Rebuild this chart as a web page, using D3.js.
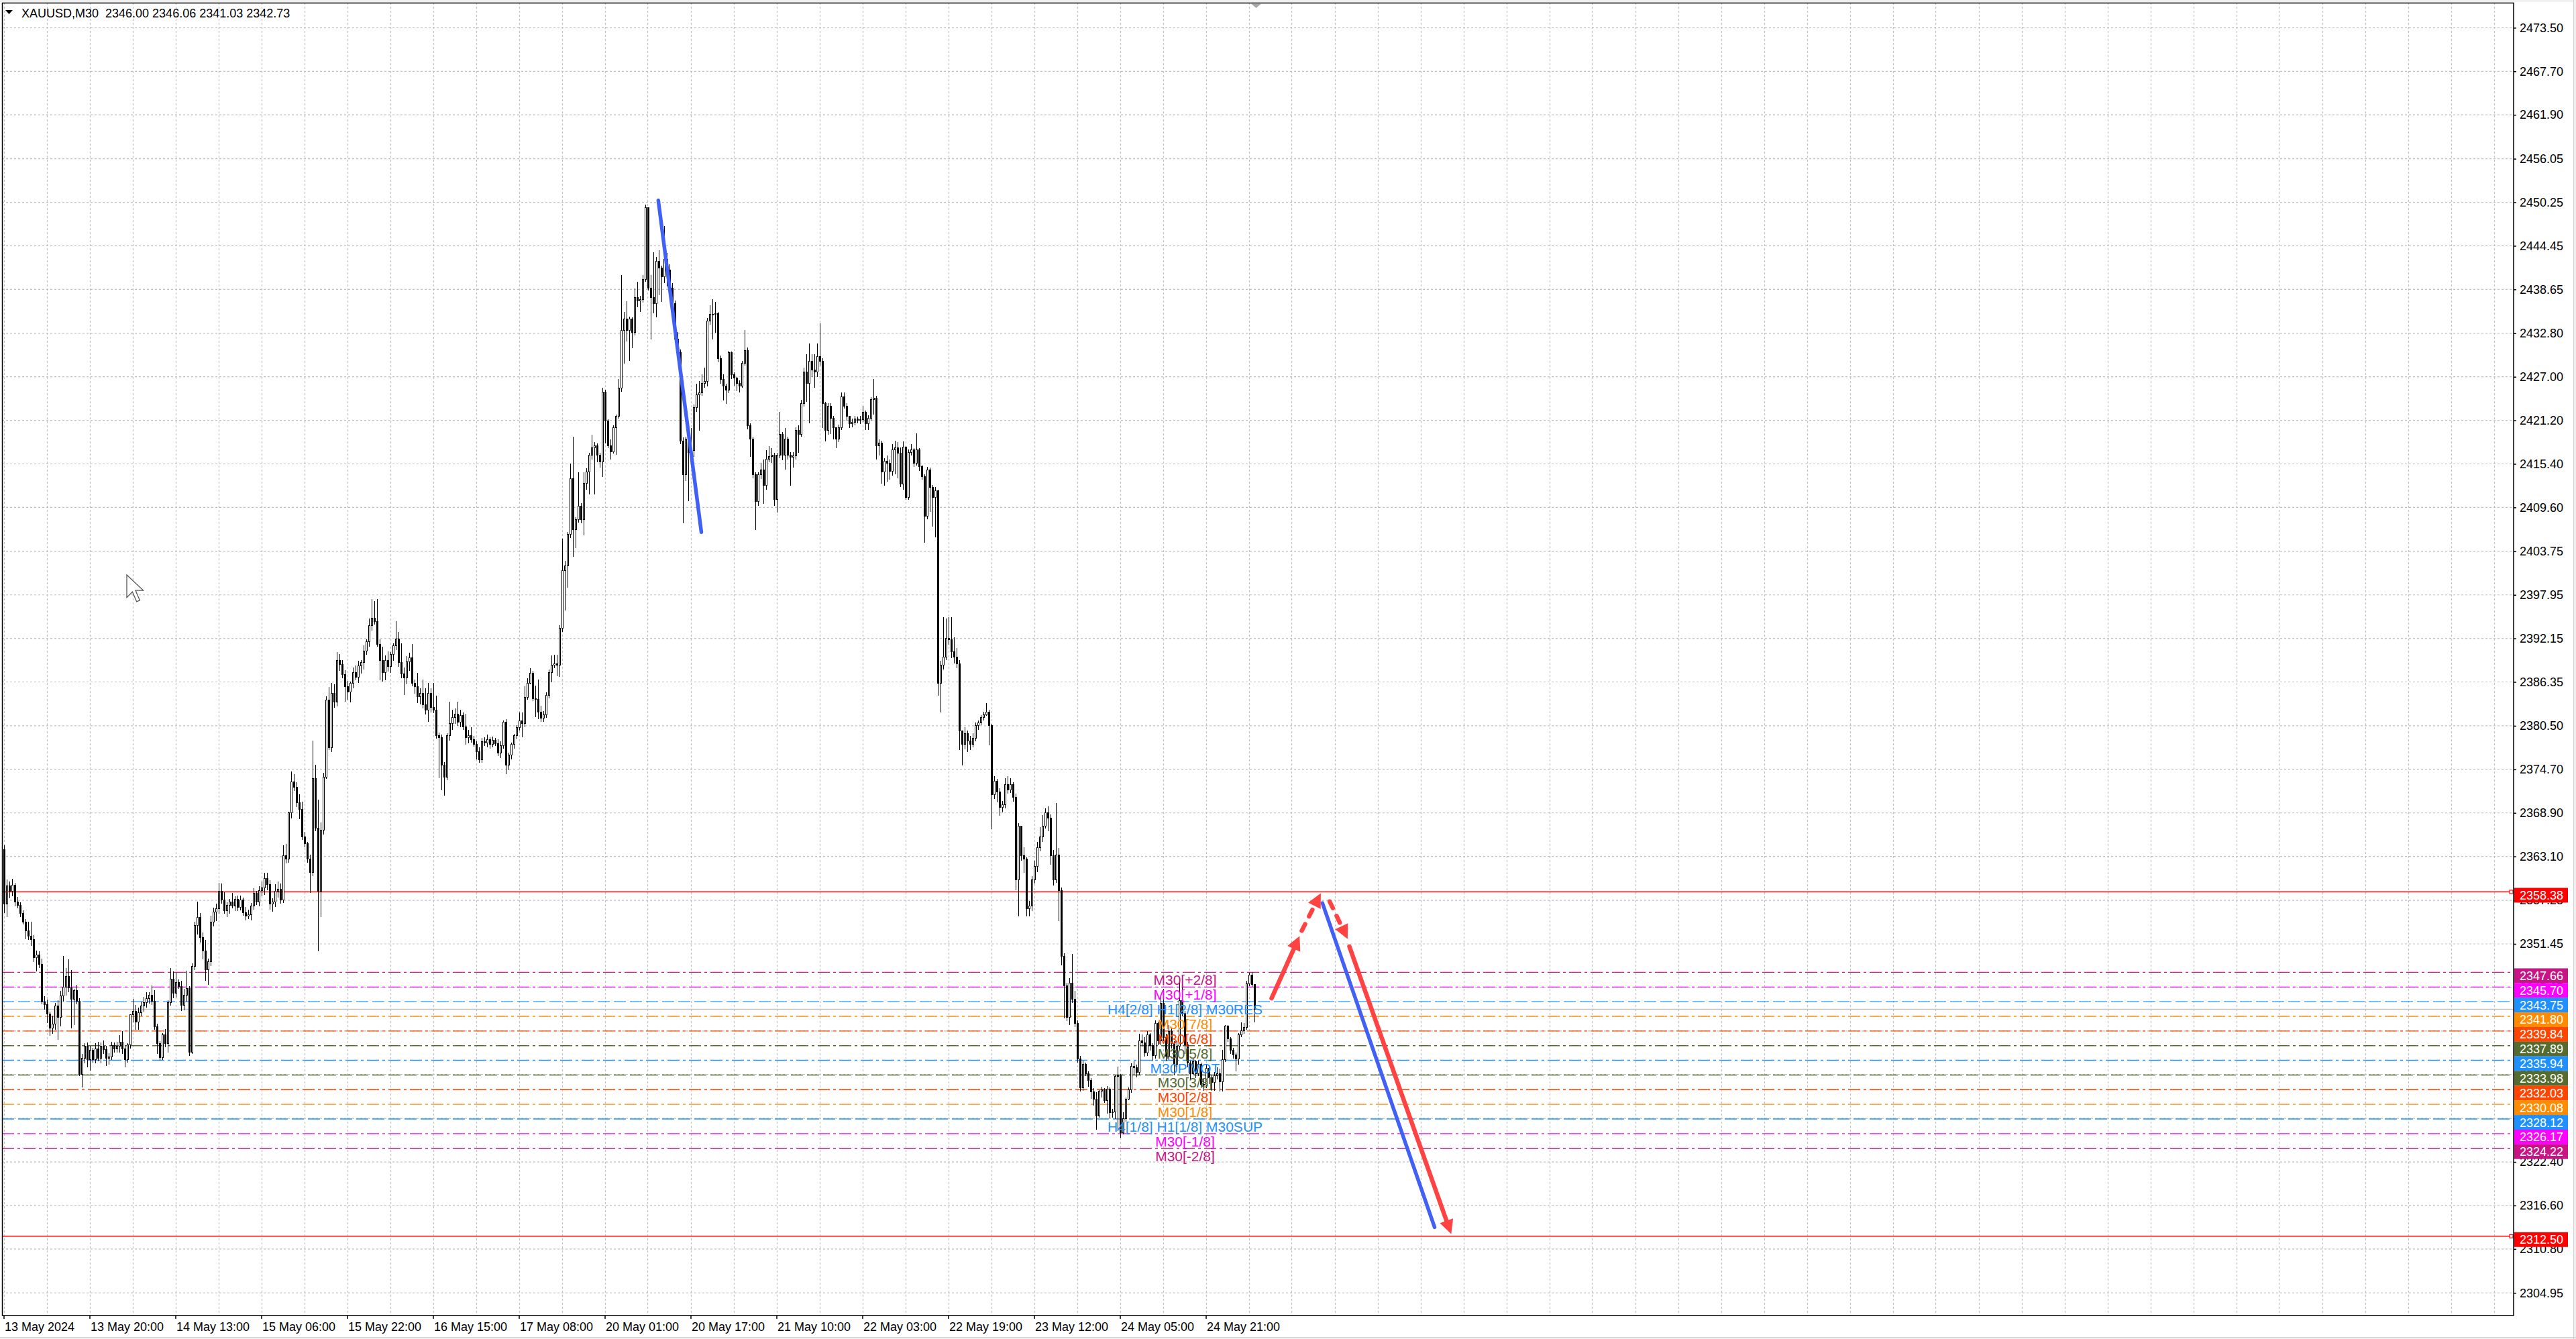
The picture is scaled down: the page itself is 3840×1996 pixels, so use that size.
<!DOCTYPE html>
<html>
<head>
<meta charset="utf-8">
<script src="https://cdn.jsdelivr.net/npm/d3@7"></script>
<style>
  html, body { margin: 0; padding: 0; background: #f0f0f0; overflow: hidden; }
  svg { display: block; }
  text { font-family: "Liberation Sans", Arial, sans-serif; }
</style>
</head>
<body>
<svg></svg>
<script>
// header
const symbolTitle = "XAUUSD,M30  2346.00 2346.06 2341.03 2342.73";

// time axis: labels every 32 bars
const timeLabels = ["13 May 2024", "13 May 20:00", "14 May 13:00", "15 May 06:00", "15 May 22:00",
  "16 May 15:00", "17 May 08:00", "20 May 01:00", "20 May 17:00", "21 May 10:00",
  "22 May 03:00", "22 May 19:00", "23 May 12:00", "24 May 05:00", "24 May 21:00"];
const timeLabelBars = [0, 32, 64, 96, 128, 160, 192, 224, 256, 288, 320, 352, 384, 416, 448];

// price axis ticks
const priceTicks = [2473.50, 2467.70, 2461.90, 2456.05, 2450.25, 2444.45, 2438.65, 2432.80, 2427.00,
  2421.20, 2415.40, 2409.60, 2403.75, 2397.95, 2392.15, 2386.35, 2380.50, 2374.70, 2368.90,
  2363.10, 2357.25, 2351.45, 2345.65, 2339.85, 2334.05, 2328.20, 2322.40, 2316.60, 2310.80, 2304.95];

// M30 candles [open, high, low, close]
const candles = [
  [2364.0,2364.6,2355.6,2356.8],[2356.8,2360.0,2355.0,2359.2],[2359.2,2359.8,2357.5,2358.5],[2358.5,2360.1,2357.8,2359.3],
  [2359.3,2359.6,2356.5,2357.0],[2357.0,2357.7,2356.2,2356.6],[2356.6,2357.0,2355.0,2355.5],[2355.5,2355.9,2354.0,2354.4],
  [2354.4,2354.8,2352.1,2353.2],[2353.2,2354.4,2352.0,2352.5],[2352.5,2354.4,2351.2,2352.0],[2352.0,2352.6,2349.0,2349.6],
  [2349.6,2350.6,2347.8,2350.0],[2350.0,2350.5,2348.2,2348.7],[2348.7,2349.5,2343.4,2343.7],[2343.7,2344.5,2342.7,2343.4],
  [2343.4,2344.0,2340.9,2342.1],[2342.1,2342.4,2339.2,2340.2],[2340.2,2341.9,2339.5,2340.8],[2340.8,2343.6,2340.0,2343.2],
  [2343.2,2343.9,2338.7,2341.7],[2341.7,2345.2,2340.5,2344.5],[2344.5,2349.8,2343.8,2345.7],[2345.7,2348.2,2344.6,2347.1],
  [2347.1,2349.4,2345.0,2345.6],[2345.6,2348.0,2340.2,2344.1],[2344.1,2345.5,2340.6,2345.2],[2345.2,2346.0,2343.4,2343.8],
  [2343.8,2344.2,2333.8,2334.1],[2334.1,2336.8,2332.3,2336.2],[2336.2,2338.2,2335.5,2337.8],[2337.8,2338.3,2335.0,2336.0],
  [2336.0,2337.9,2334.6,2337.3],[2337.3,2337.6,2335.6,2336.0],[2336.0,2338.2,2335.5,2337.5],[2337.5,2338.4,2335.8,2336.2],
  [2336.2,2338.3,2335.5,2337.8],[2337.8,2338.6,2336.8,2337.4],[2337.4,2337.9,2335.2,2336.2],[2336.2,2336.9,2335.4,2336.4],
  [2336.4,2338.4,2336.0,2337.9],[2337.9,2338.3,2337.0,2337.5],[2337.5,2338.4,2337.0,2337.8],[2337.8,2339.3,2337.0,2338.4],
  [2338.4,2339.8,2336.8,2337.5],[2337.5,2338.0,2335.0,2336.0],[2336.0,2338.2,2335.6,2338.0],[2338.0,2342.1,2337.5,2342.0],
  [2342.0,2344.1,2341.0,2342.5],[2342.5,2343.3,2340.0,2341.0],[2341.0,2343.0,2340.0,2342.3],[2342.3,2343.8,2341.8,2343.2],
  [2343.2,2344.4,2342.4,2343.6],[2343.6,2345.0,2343.0,2344.2],[2344.2,2345.0,2343.5,2344.6],[2344.6,2345.9,2343.3,2343.8],
  [2343.8,2345.3,2340.0,2340.4],[2340.4,2340.8,2336.8,2338.2],[2338.2,2338.5,2335.9,2336.3],[2336.3,2339.6,2336.0,2339.3],
  [2339.3,2340.1,2337.7,2338.2],[2338.2,2343.9,2337.0,2343.6],[2343.6,2348.2,2343.2,2346.8],[2346.8,2347.8,2344.2,2344.9],
  [2344.9,2347.6,2344.3,2346.3],[2346.3,2346.7,2345.5,2345.8],[2345.8,2346.5,2342.5,2343.3],[2343.3,2345.5,2342.6,2344.6],
  [2344.6,2347.9,2343.8,2345.5],[2345.5,2345.8,2336.5,2337.0],[2337.0,2348.9,2336.8,2348.5],[2348.5,2354.4,2348.0,2353.9],
  [2353.9,2357.1,2352.7,2355.0],[2355.0,2355.6,2351.6,2352.3],[2352.3,2353.0,2349.4,2350.5],[2350.5,2352.0,2346.5,2348.0],
  [2348.0,2349.5,2346.0,2349.1],[2349.1,2355.2,2348.5,2354.4],[2354.4,2356.3,2353.8,2355.7],[2355.7,2356.8,2354.5,2356.1],
  [2356.1,2359.6,2355.5,2358.5],[2358.5,2359.5,2356.8,2357.3],[2357.3,2358.3,2355.5,2355.9],[2355.9,2357.0,2355.0,2356.6],
  [2356.6,2357.4,2355.5,2357.0],[2357.0,2358.2,2356.2,2356.5],[2356.5,2357.8,2355.8,2357.4],[2357.4,2357.9,2355.8,2356.3],
  [2356.3,2357.9,2355.9,2357.3],[2357.3,2357.6,2355.2,2355.6],[2355.6,2356.4,2354.6,2355.2],[2355.2,2356.0,2354.8,2355.3],
  [2355.3,2356.9,2354.6,2356.5],[2356.5,2358.9,2356.0,2358.2],[2358.2,2358.5,2356.6,2357.0],[2357.0,2359.1,2356.5,2358.6],
  [2358.6,2359.8,2357.8,2358.9],[2358.9,2360.9,2358.0,2360.2],[2360.2,2360.9,2358.6,2359.4],[2359.4,2359.9,2356.0,2356.8],
  [2356.8,2357.5,2355.7,2357.0],[2357.0,2359.4,2356.4,2358.5],[2358.5,2359.8,2357.6,2358.7],[2358.7,2359.5,2356.8,2357.3],
  [2357.3,2364.6,2356.9,2363.2],[2363.2,2364.8,2362.2,2362.8],[2362.8,2369.1,2362.3,2368.9],[2368.9,2374.4,2368.2,2373.0],
  [2373.0,2374.1,2371.8,2372.3],[2372.3,2373.0,2369.7,2370.3],[2370.3,2371.4,2368.1,2369.4],[2369.4,2370.4,2365.3,2365.7],
  [2365.7,2366.4,2364.3,2364.8],[2364.8,2365.0,2362.3,2362.8],[2362.8,2363.3,2358.2,2361.0],[2361.0,2378.5,2360.5,2373.5],
  [2373.5,2375.3,2366.5,2366.9],[2366.9,2370.7,2350.5,2358.5],[2358.5,2367.6,2355.0,2366.6],[2366.6,2374.2,2366.0,2373.7],
  [2373.7,2384.4,2373.4,2383.9],[2383.9,2385.7,2377.3,2377.6],[2377.6,2386.2,2377.0,2384.8],[2384.8,2386.0,2382.9,2383.7],
  [2383.7,2390.3,2383.1,2389.2],[2389.2,2390.1,2387.8,2388.7],[2388.7,2389.3,2386.8,2387.3],[2387.3,2387.9,2383.7,2385.7],
  [2385.7,2386.5,2384.0,2385.0],[2385.0,2386.4,2383.6,2386.2],[2386.2,2388.3,2385.5,2387.6],[2387.6,2388.5,2386.6,2387.0],
  [2387.0,2389.2,2386.2,2388.5],[2388.5,2389.3,2387.5,2388.9],[2388.9,2391.2,2388.0,2390.5],[2390.5,2392.0,2390.0,2391.7],
  [2391.7,2394.8,2391.0,2393.9],[2393.9,2397.4,2393.2,2394.8],[2394.8,2397.1,2394.0,2394.4],[2394.4,2397.4,2391.0,2391.4],
  [2391.4,2392.0,2386.6,2389.2],[2389.2,2391.0,2386.4,2387.6],[2387.6,2389.9,2386.6,2389.2],[2389.2,2390.4,2387.7,2388.4],
  [2388.4,2390.3,2387.6,2390.0],[2390.0,2391.5,2389.2,2391.2],[2391.2,2394.4,2390.6,2392.1],[2392.1,2393.0,2388.4,2388.9],
  [2388.9,2391.5,2386.8,2387.4],[2387.4,2388.3,2384.6,2386.9],[2386.9,2389.8,2386.0,2389.0],[2389.0,2390.2,2387.8,2389.6],
  [2389.6,2391.4,2385.8,2386.2],[2386.2,2386.7,2384.8,2385.7],[2385.7,2387.6,2383.5,2384.4],[2384.4,2385.5,2383.4,2384.8],
  [2384.8,2386.7,2382.8,2383.3],[2383.3,2385.5,2382.0,2382.6],[2382.6,2386.2,2381.0,2384.8],[2384.8,2385.5,2382.3,2383.0],
  [2383.0,2386.2,2382.2,2382.6],[2382.6,2384.5,2378.8,2379.2],[2379.2,2379.6,2373.5,2378.9],[2378.9,2379.3,2371.9,2375.3],
  [2375.3,2375.7,2371.2,2373.7],[2373.7,2379.5,2373.3,2379.2],[2379.2,2383.7,2378.5,2380.8],[2380.8,2382.6,2380.0,2381.6],
  [2381.6,2382.8,2380.8,2382.1],[2382.1,2383.7,2380.5,2381.0],[2381.0,2382.6,2380.3,2381.9],[2381.9,2382.3,2380.0,2380.4],
  [2380.4,2382.1,2378.0,2378.9],[2378.9,2380.0,2378.2,2379.2],[2379.2,2380.3,2378.3,2378.7],[2378.7,2379.2,2377.7,2378.0],
  [2378.0,2378.4,2376.0,2377.1],[2377.1,2377.6,2375.6,2376.0],[2376.0,2378.9,2375.6,2378.4],[2378.4,2379.0,2377.8,2378.2],
  [2378.2,2379.3,2377.6,2378.7],[2378.7,2379.0,2377.5,2378.0],[2378.0,2379.1,2377.6,2378.6],[2378.6,2378.9,2377.8,2378.1],
  [2378.1,2378.7,2376.5,2376.9],[2376.9,2378.4,2376.2,2377.9],[2377.9,2381.2,2377.5,2381.0],[2381.0,2381.4,2374.1,2375.3],
  [2375.3,2376.9,2374.6,2376.6],[2376.6,2378.3,2376.0,2378.0],[2378.0,2379.4,2377.5,2379.2],[2379.2,2380.6,2378.7,2380.3],
  [2380.3,2382.3,2379.9,2381.2],[2381.2,2382.3,2379.0,2380.8],[2380.8,2385.8,2380.3,2384.3],[2384.3,2386.8,2384.0,2386.2],
  [2386.2,2388.2,2386.0,2387.5],[2387.5,2387.8,2383.8,2384.1],[2384.1,2385.9,2381.7,2384.0],[2384.0,2386.7,2381.4,2382.3],
  [2382.3,2383.2,2381.0,2381.5],[2381.5,2382.5,2381.0,2382.0],[2382.0,2385.0,2381.6,2384.6],[2384.6,2388.0,2384.2,2387.6],
  [2387.6,2389.9,2386.3,2388.6],[2388.6,2390.0,2388.2,2388.8],[2388.8,2390.0,2387.1,2388.6],[2388.6,2393.9,2387.0,2393.5],
  [2393.5,2405.4,2393.0,2401.2],[2401.2,2402.5,2395.9,2401.8],[2401.8,2406.3,2398.9,2406.0],[2406.0,2415.4,2405.5,2413.4],
  [2413.4,2419.0,2403.0,2406.6],[2406.6,2408.3,2404.2,2408.0],[2408.0,2414.3,2407.6,2409.8],[2409.8,2410.2,2407.5,2408.0],
  [2408.0,2414.3,2405.9,2412.8],[2412.8,2414.8,2412.0,2414.3],[2414.3,2416.9,2411.3,2416.6],[2416.6,2419.3,2416.0,2417.5],
  [2417.5,2418.3,2411.3,2417.8],[2417.8,2418.1,2415.6,2416.6],[2416.6,2416.9,2414.9,2415.7],[2415.7,2425.5,2413.7,2425.0],
  [2425.0,2425.3,2418.1,2421.1],[2421.1,2421.3,2417.5,2417.8],[2417.8,2418.7,2416.0,2417.0],[2417.0,2420.5,2416.8,2420.2],
  [2420.2,2422.0,2416.6,2421.7],[2421.7,2426.7,2421.4,2425.5],[2425.5,2440.6,2425.0,2433.2],[2433.2,2435.6,2428.8,2434.7],
  [2434.7,2437.1,2431.7,2433.2],[2433.2,2435.0,2429.1,2434.7],[2434.7,2434.9,2430.8,2432.9],[2432.9,2438.8,2432.5,2437.6],
  [2437.6,2439.7,2436.3,2437.1],[2437.1,2437.8,2435.6,2437.3],[2437.3,2440.6,2436.9,2440.0],[2440.0,2449.9,2439.7,2449.5],
  [2449.5,2449.6,2438.5,2438.8],[2438.8,2440.6,2432.0,2437.6],[2437.6,2443.6,2435.5,2436.8],[2436.8,2443.0,2434.9,2442.4],
  [2442.4,2443.9,2437.9,2441.5],[2441.5,2441.8,2437.0,2440.3],[2440.3,2447.1,2439.5,2442.7],[2442.7,2443.5,2439.0,2441.2],
  [2441.2,2442.0,2437.5,2438.8],[2438.8,2439.5,2435.9,2436.8],[2436.8,2437.2,2431.5,2432.0],[2432.0,2433.0,2429.6,2430.2],
  [2430.2,2430.6,2418.0,2418.4],[2418.4,2418.9,2407.5,2414.0],[2414.0,2419.0,2413.1,2418.7],[2418.7,2420.3,2410.4,2416.9],
  [2416.9,2420.2,2415.0,2417.2],[2417.2,2423.3,2416.3,2422.9],[2422.9,2426.1,2422.3,2424.6],[2424.6,2426.4,2419.8,2424.9],
  [2424.9,2427.3,2424.5,2426.1],[2426.1,2428.2,2425.5,2426.4],[2426.4,2434.8,2425.7,2434.4],[2434.4,2436.5,2433.9,2435.3],
  [2435.3,2437.3,2432.0,2435.3],[2435.3,2437.0,2432.9,2435.4],[2435.4,2435.6,2428.9,2429.4],[2429.4,2429.8,2426.1,2426.7],
  [2426.7,2427.3,2423.8,2425.8],[2425.8,2426.1,2423.4,2425.2],[2425.2,2430.5,2424.8,2430.2],[2430.2,2430.4,2426.7,2427.3],
  [2427.3,2427.6,2425.8,2426.8],[2426.8,2427.0,2425.1,2426.1],[2426.1,2426.5,2424.9,2425.8],[2425.8,2429.1,2425.5,2428.8],
  [2428.8,2433.2,2428.5,2430.5],[2430.5,2430.9,2420.0,2420.5],[2420.5,2420.8,2416.3,2418.7],[2418.7,2419.0,2413.5,2414.0],
  [2414.0,2414.3,2406.6,2410.4],[2410.4,2414.3,2409.8,2414.0],[2414.0,2415.5,2413.4,2414.6],[2414.6,2416.0,2410.1,2412.5],
  [2412.5,2417.2,2412.0,2416.0],[2416.0,2417.8,2415.6,2416.4],[2416.4,2417.5,2415.5,2416.6],[2416.6,2416.9,2409.8,2410.7],
  [2410.7,2416.9,2408.9,2416.6],[2416.6,2422.3,2416.2,2419.3],[2419.3,2419.6,2415.9,2416.6],[2416.6,2420.2,2414.6,2418.7],
  [2418.7,2419.0,2416.0,2416.6],[2416.6,2417.0,2412.5,2416.3],[2416.3,2417.0,2414.9,2416.5],[2416.5,2420.3,2416.0,2419.9],
  [2419.9,2420.5,2416.9,2419.3],[2419.3,2423.9,2419.0,2423.4],[2423.4,2428.2,2423.0,2427.6],[2427.6,2430.0,2423.7,2426.1],
  [2426.1,2431.4,2420.8,2429.1],[2429.1,2430.0,2427.0,2427.9],[2427.9,2430.0,2425.5,2427.6],[2427.6,2431.4,2427.0,2429.7],
  [2429.7,2434.1,2428.5,2429.1],[2429.1,2429.5,2420.2,2423.4],[2423.4,2423.7,2418.4,2419.9],[2419.9,2423.5,2419.3,2423.1],
  [2423.1,2423.5,2419.4,2421.5],[2421.5,2421.8,2418.7,2420.2],[2420.2,2420.3,2417.5,2418.7],[2418.7,2420.6,2418.3,2420.2],
  [2420.2,2424.9,2419.9,2424.3],[2424.3,2424.9,2422.8,2423.1],[2423.1,2423.5,2421.2,2421.7],[2421.7,2421.8,2420.2,2420.8],
  [2420.8,2421.4,2420.3,2420.9],[2420.9,2421.8,2420.5,2421.4],[2421.4,2421.7,2420.8,2421.2],[2421.2,2421.8,2420.7,2421.3],
  [2421.3,2423.1,2421.0,2422.3],[2422.3,2422.5,2419.9,2420.8],[2420.8,2421.9,2419.9,2421.5],[2421.5,2424.3,2421.2,2424.0],
  [2424.0,2426.7,2422.0,2424.2],[2424.2,2424.5,2416.0,2417.8],[2417.8,2418.7,2416.5,2418.2],[2418.2,2418.5,2412.8,2414.3],
  [2414.3,2416.2,2412.5,2415.8],[2415.8,2416.5,2413.0,2415.5],[2415.5,2416.0,2413.3,2414.4],[2414.4,2418.0,2413.8,2417.3],
  [2417.3,2418.5,2414.0,2417.5],[2417.5,2418.3,2413.5,2416.8],[2416.8,2417.6,2412.3,2412.7],[2412.7,2418.4,2412.0,2417.6],
  [2417.6,2417.8,2410.6,2410.9],[2410.9,2417.3,2410.6,2416.9],[2416.9,2418.0,2416.5,2417.3],[2417.3,2417.5,2415.0,2415.5],
  [2415.5,2419.5,2415.2,2417.3],[2417.3,2417.5,2414.5,2415.0],[2415.0,2415.3,2413.3,2413.7],[2413.7,2414.0,2404.9,2408.4],
  [2408.4,2415.0,2408.0,2414.6],[2414.6,2414.9,2409.0,2412.3],[2412.3,2412.6,2407.0,2410.9],[2410.9,2412.3,2405.6,2411.8],
  [2411.8,2412.0,2384.5,2386.2],[2386.2,2389.2,2382.3,2388.6],[2388.6,2395.0,2388.0,2389.7],[2389.7,2394.8,2389.3,2392.2],
  [2392.2,2395.0,2391.3,2392.0],[2392.0,2395.0,2389.5,2390.4],[2390.4,2392.3,2388.8,2389.7],[2389.7,2390.9,2388.2,2388.8],
  [2388.8,2389.3,2377.3,2379.8],[2379.8,2379.9,2375.2,2378.0],[2378.0,2380.3,2377.4,2379.5],[2379.5,2379.9,2377.0,2378.5],
  [2378.5,2379.2,2377.3,2378.0],[2378.0,2379.5,2377.6,2378.8],[2378.8,2380.9,2378.4,2380.5],[2380.5,2381.2,2380.0,2380.9],
  [2380.9,2381.9,2380.6,2381.6],[2381.6,2382.4,2381.2,2382.0],[2382.0,2383.5,2381.8,2382.3],[2382.3,2382.6,2377.9,2380.5],
  [2380.5,2380.8,2366.7,2371.3],[2371.3,2373.8,2370.8,2373.1],[2373.1,2373.4,2370.3,2371.7],[2371.7,2372.2,2368.5,2369.6],
  [2369.6,2370.5,2369.0,2370.0],[2370.0,2373.5,2369.5,2372.7],[2372.7,2373.8,2371.5,2372.0],[2372.0,2373.5,2371.6,2372.7],
  [2372.7,2373.0,2370.4,2371.0],[2371.0,2371.5,2358.6,2360.0],[2360.0,2367.5,2355.1,2367.1],[2367.1,2367.2,2362.5,2363.2],
  [2363.2,2364.3,2360.9,2362.8],[2362.8,2363.0,2355.1,2356.1],[2356.1,2357.2,2355.1,2356.5],[2356.5,2360.5,2355.8,2360.0],
  [2360.0,2362.5,2359.5,2361.8],[2361.8,2365.0,2361.0,2364.3],[2364.3,2367.0,2363.8,2365.7],[2365.7,2368.6,2365.0,2367.1],
  [2367.1,2369.5,2366.8,2368.9],[2368.9,2369.8,2366.5,2368.2],[2368.2,2368.7,2362.0,2363.2],[2363.2,2364.0,2359.2,2360.0],
  [2360.0,2370.2,2359.6,2363.3],[2363.3,2364.2,2354.5,2358.6],[2358.6,2359.0,2348.6,2349.8],[2349.8,2350.2,2341.5,2345.9],
  [2345.9,2346.3,2341.2,2341.7],[2341.7,2346.9,2340.6,2346.2],[2346.2,2350.1,2343.6,2344.1],[2344.1,2345.2,2340.4,2340.9],
  [2340.9,2341.3,2335.6,2336.1],[2336.1,2336.5,2331.8,2332.3],[2332.3,2335.9,2331.9,2335.4],[2335.4,2335.6,2333.8,2334.2],
  [2334.2,2334.5,2332.4,2333.3],[2333.3,2333.6,2330.8,2331.7],[2331.7,2332.2,2329.9,2330.8],[2330.8,2331.7,2326.7,2328.5],
  [2328.5,2332.0,2328.3,2331.8],[2331.8,2332.4,2331.0,2332.0],[2332.0,2332.2,2330.3,2330.6],[2330.6,2332.5,2328.8,2332.1],
  [2332.1,2332.3,2328.2,2329.0],[2329.0,2329.5,2328.3,2329.1],[2329.1,2334.0,2328.1,2333.8],[2333.8,2335.1,2326.5,2333.9],
  [2333.9,2334.1,2325.6,2326.3],[2326.3,2329.0,2326.1,2328.2],[2328.2,2331.0,2327.8,2330.8],[2330.8,2332.3,2330.6,2332.0],
  [2332.0,2335.5,2331.6,2335.1],[2335.1,2335.8,2334.0,2335.0],[2335.0,2335.4,2333.7,2334.3],[2334.3,2339.5,2334.0,2338.5],
  [2338.5,2339.4,2337.8,2338.3],[2338.3,2339.0,2336.4,2336.9],[2336.9,2339.8,2336.5,2339.3],[2339.3,2339.6,2337.2,2337.9],
  [2337.9,2338.2,2335.8,2336.6],[2336.6,2341.3,2336.2,2340.9],[2340.9,2341.1,2338.0,2338.5],[2338.5,2344.3,2338.0,2343.5],
  [2343.5,2345.5,2338.5,2339.0],[2339.0,2339.5,2335.8,2336.5],[2336.5,2340.6,2336.0,2339.8],[2339.8,2340.3,2337.5,2338.2],
  [2338.2,2338.5,2333.9,2335.4],[2335.4,2338.5,2335.0,2337.8],[2337.8,2347.0,2337.3,2343.9],[2343.9,2347.2,2341.8,2342.2],
  [2342.2,2342.5,2336.8,2338.0],[2338.0,2338.4,2335.0,2335.6],[2335.6,2335.9,2333.3,2334.2],[2334.2,2336.2,2334.0,2335.8],
  [2335.8,2336.0,2333.6,2334.2],[2334.2,2335.9,2333.8,2335.4],[2335.4,2335.6,2332.2,2332.7],[2332.7,2333.5,2331.9,2332.6],
  [2332.6,2335.4,2332.2,2334.9],[2334.9,2335.2,2332.8,2333.6],[2333.6,2334.0,2331.9,2333.0],[2333.0,2334.4,2331.9,2333.9],
  [2333.9,2335.0,2333.4,2334.2],[2334.2,2334.8,2331.8,2333.1],[2333.1,2337.3,2331.8,2336.0],[2336.0,2340.6,2335.7,2340.5],
  [2340.5,2340.6,2338.4,2338.8],[2338.8,2339.0,2336.8,2337.3],[2337.3,2337.6,2336.2,2336.7],[2336.7,2337.0,2334.5,2336.1],
  [2336.1,2339.6,2335.4,2339.3],[2339.3,2341.0,2339.0,2339.9],[2339.9,2340.9,2339.5,2340.3],[2340.3,2346.5,2340.0,2346.1],
  [2346.1,2347.6,2345.8,2347.3],[2347.3,2347.7,2345.7,2346.0],[2346.00,2346.06,2341.03,2342.73]
];

// Murrey-style levels
const levelPrices = [2347.66, 2345.70, 2343.75, 2341.80, 2339.84, 2337.89, 2335.94,
  2333.98, 2332.03, 2330.08, 2328.12, 2326.17, 2324.22];
const levelNames = ["M30[+2/8]", "M30[+1/8]", "H4[2/8] H1[2/8] M30RES", "M30[7/8]", "M30[6/8]",
  "M30[5/8]", "M30PIVOT", "M30[3/8]", "M30[2/8]", "M30[1/8]", "H4[1/8] H1[1/8] M30SUP",
  "M30[-1/8]", "M30[-2/8]"];
const levelColors = ["#c71585", "#ff00ff", "#1e90ff", "#ff8c00", "#ff4500", "#556b2f", "#1e90ff",
  "#556b2f", "#ff4500", "#ff8c00", "#1e90ff", "#ff00ff", "#c71585"];
const levelStyles = ["dashdot", "dashdot", "dash", "dashdot", "dashdot", "dashdot", "dashdot",
  "dash", "dashdot", "dashdot", "dash", "dashdot", "dashdot"];

const redLevels = [2358.38, 2312.50];
const bidPrice = 2342.73;

// hand drawn lines, [bar, price]
const blueLines = [
  [[243.7, 2450.5], [259.75, 2406.3]],
  [[491.2, 2356.9], [533.0, 2313.7]]
];
const redArrows = [
  {from: [472.25, 2344.2], to: [482.7, 2352.5], dashed: false},
  {from: [483.5, 2353.2], to: [490.6, 2358.2], dashed: true},
  {from: [493.9, 2357.1], to: [500.6, 2352.1], dashed: true},
  {from: [501.25, 2351.1], to: [539.2, 2312.8], dashed: false}
];

const W = 3840, H = 1996;
const plot = {left: 3, top: 4, right: 3747, bottom: 1961};
const labelFont = 18;

const svg = d3.select("svg").attr("width", W).attr("height", H);

const x = d3.scaleLinear().domain([0, 466]).range([6.5, 1870.5]);
const y = d3.scaleLinear().domain([2304.95, 2473.5]).range([1927.3, 41.4]);

// window
svg.append("rect").attr("x", 0).attr("y", 3).attr("width", 3836).attr("height", 1990).attr("fill", "#ffffff");

// grid
const gridBars = d3.range(0, 940, 16).filter((b) => x(b) < plot.right - 2);
svg.append("g")
  .selectAll("line")
  .data(gridBars)
  .join("line")
  .attr("x1", (d) => Math.round(x(d)) - 0.5)
  .attr("x2", (d) => Math.round(x(d)) - 0.5)
  .attr("y1", plot.top)
  .attr("y2", plot.bottom)
  .attr("stroke", "#c0c0c0")
  .attr("stroke-width", 1.2)
  .attr("stroke-dasharray", "3,3");

svg.append("g")
  .selectAll("line")
  .data(priceTicks)
  .join("line")
  .attr("x1", plot.left)
  .attr("x2", plot.right)
  .attr("y1", (d) => y(d))
  .attr("y2", (d) => y(d))
  .attr("stroke", "#c0c0c0")
  .attr("stroke-width", 1.2)
  .attr("stroke-dasharray", "3,3");

// levels
const dashFor = (s) => (s === "dash" ? "18,6" : "18,5,4,5");
svg.append("g")
  .selectAll("line")
  .data(levelPrices)
  .join("line")
  .attr("x1", plot.left)
  .attr("x2", plot.right)
  .attr("y1", (d) => y(d))
  .attr("y2", (d) => y(d))
  .attr("stroke", (d, i) => levelColors[i])
  .attr("stroke-width", 1.4)
  .attr("stroke-dasharray", (d, i) => dashFor(levelStyles[i]));

// bid line
svg.append("line")
  .attr("x1", plot.left).attr("x2", plot.right)
  .attr("y1", y(bidPrice)).attr("y2", y(bidPrice))
  .attr("stroke", "#c0c0c0").attr("stroke-width", 1.5);

// red horizontal lines
const redG = svg.append("g");
redG.selectAll("line")
  .data(redLevels)
  .join("line")
  .attr("x1", plot.left).attr("x2", plot.right)
  .attr("y1", (d) => y(d)).attr("y2", (d) => y(d))
  .attr("stroke", "#ff0000").attr("stroke-width", 1.5);
redG.selectAll("rect")
  .data(redLevels)
  .join("rect")
  .attr("x", plot.right - 6).attr("y", (d) => y(d) - 2.5)
  .attr("width", 5).attr("height", 5)
  .attr("fill", "#ffffff").attr("stroke", "#ff0000").attr("stroke-width", 1.2);

// candles
const cg = svg.append("g").attr("shape-rendering", "crispEdges");
const candle = cg.selectAll("g").data(candles).join("g");
candle.append("line")
  .attr("x1", (d, i) => x(i)).attr("x2", (d, i) => x(i))
  .attr("y1", (d) => y(Math.max(d[1], d[0], d[3])))
  .attr("y2", (d) => y(Math.min(d[2], d[0], d[3])))
  .attr("stroke", "#000").attr("stroke-width", 1);
candle.append("rect")
  .attr("x", (d, i) => x(i) - 1)
  .attr("width", 2)
  .attr("y", (d) => y(Math.max(d[0], d[3])))
  .attr("height", (d) => Math.max(0.5, Math.abs(y(d[0]) - y(d[3]))))
  .attr("fill", (d) => (d[3] >= d[0] ? "#ffffff" : "#000000"))
  .attr("stroke", "#000").attr("stroke-width", 1);

// level texts
const labelX = x(440);
svg.append("g")
  .selectAll("text")
  .data(levelPrices)
  .join("text")
  .attr("x", labelX)
  .attr("y", (d) => y(d) + 19)
  .attr("text-anchor", "middle")
  .attr("font-size", 21)
  .attr("fill", (d, i) => levelColors[i])
  .text((d, i) => levelNames[i]);

// hand drawn lines
const pt = (p) => [x(p[0]), y(p[1])];
svg.append("g")
  .selectAll("line")
  .data(blueLines)
  .join("line")
  .attr("x1", (d) => pt(d[0])[0]).attr("y1", (d) => pt(d[0])[1])
  .attr("x2", (d) => pt(d[1])[0]).attr("y2", (d) => pt(d[1])[1])
  .attr("stroke", "#4160f5").attr("stroke-width", 5.5).attr("stroke-linecap", "round");

const headLen = 21, headHalf = 10.5;
const ag = svg.append("g");
redArrows.forEach((a) => {
  const [x1, y1] = pt(a.from);
  const [x2, y2] = pt(a.to);
  const len = Math.hypot(x2 - x1, y2 - y1);
  const ux = (x2 - x1) / len, uy = (y2 - y1) / len;
  const bx = x2 - ux * headLen, by = y2 - uy * headLen;
  ag.append("line")
    .attr("x1", x1).attr("y1", y1).attr("x2", bx + ux * 2).attr("y2", by + uy * 2)
    .attr("stroke", "#ff4343").attr("stroke-width", 6.5).attr("stroke-linecap", "round")
    .attr("stroke-dasharray", a.dashed ? "11,13" : null);
  ag.append("polygon")
    .attr("points", [[x2, y2], [bx - uy * headHalf, by + ux * headHalf], [bx + uy * headHalf, by - ux * headHalf]].map((p) => p.join(",")).join(" "))
    .attr("fill", "#ff4343");
});

// frame
svg.append("rect")
  .attr("x", plot.left + 0.5).attr("y", plot.top + 0.5)
  .attr("width", plot.right - plot.left - 0.5).attr("height", plot.bottom - plot.top - 0.5)
  .attr("fill", "none").attr("stroke", "#000").attr("stroke-width", 1.5);

// price axis
const yAxis = d3.axisRight(y)
  .tickValues(priceTicks)
  .tickSize(4)
  .tickPadding(5)
  .tickFormat(d3.format(".2f"));
const yAxisG = svg.append("g").attr("transform", `translate(${plot.right},0)`).call(yAxis);
yAxisG.select(".domain").remove();
yAxisG.selectAll("line").attr("stroke", "#000").attr("stroke-width", 1.5);
yAxisG.selectAll("text").attr("font-size", labelFont).attr("fill", "#000")
  .attr("font-family", "Liberation Sans, Arial, sans-serif");

// time axis
const xAxis = d3.axisBottom(x)
  .tickValues(timeLabelBars)
  .tickSize(5)
  .tickPadding(5)
  .tickFormat((d, i) => timeLabels[i]);
const xAxisG = svg.append("g").attr("transform", `translate(-1,${plot.bottom})`).call(xAxis);
xAxisG.select(".domain").remove();
xAxisG.selectAll("line").attr("stroke", "#000").attr("stroke-width", 1.5);
xAxisG.selectAll("text").attr("font-size", labelFont).attr("fill", "#000")
  .attr("text-anchor", "start").attr("dx", 1)
  .attr("font-family", "Liberation Sans, Arial, sans-serif");

// price label boxes (MT4 draws them a few pixels below the line)
const boxH = y(levelPrices[1]) - y(levelPrices[0]);
const boxShift = 5;
const boxes = svg.append("g");
const allBoxes = levelPrices.map((p, i) => ({p, c: levelColors[i]}))
  .concat(redLevels.map((p) => ({p, c: "#ff0000"})));
boxes.selectAll("rect")
  .data(allBoxes)
  .join("rect")
  .attr("x", plot.right + 1).attr("y", (d) => y(d.p) - boxH / 2 + boxShift)
  .attr("width", 80).attr("height", boxH)
  .attr("fill", (d) => d.c);
boxes.selectAll("text")
  .data(allBoxes)
  .join("text")
  .attr("x", plot.right + 9).attr("y", (d) => y(d.p) + 6.5 + boxShift)
  .attr("font-size", labelFont).attr("fill", "#ffffff")
  .text((d) => d3.format(".2f")(d.p));

// header
svg.append("polygon").attr("points", "8,15 19,15 13.5,21").attr("fill", "#000");
svg.append("text").attr("x", 32).attr("y", 26).attr("font-size", labelFont).attr("fill", "#000")
  .attr("xml:space", "preserve").style("white-space", "pre").text(symbolTitle);

// chart shift marker
const sx = x(466.5);
svg.append("polygon")
  .attr("points", `${sx - 8},${plot.top + 1} ${sx + 8},${plot.top + 1} ${sx},${plot.top + 8}`)
  .attr("fill", "#a8a8a8");

// mouse pointer
const cx = 189, cy = 857, s = 2.1;
svg.append("path")
  .attr("d", `M${cx},${cy} l0,${16 * s} l${4 * s},${-4 * s} l${3 * s},${7 * s} l${2.2 * s},${-1 * s} l${-3 * s},${-7 * s} l${5.5 * s},0 Z`)
  .attr("fill", "#ffffff").attr("stroke", "#555").attr("stroke-width", 1.3);

// outer borders
svg.append("line").attr("x1", 3836.5).attr("x2", 3836.5).attr("y1", 0).attr("y2", H).attr("stroke", "#d0d0d0");
svg.append("line").attr("x1", 0).attr("x2", W).attr("y1", 1993.5).attr("y2", 1993.5).attr("stroke", "#d0d0d0");
</script>
</body>
</html>
